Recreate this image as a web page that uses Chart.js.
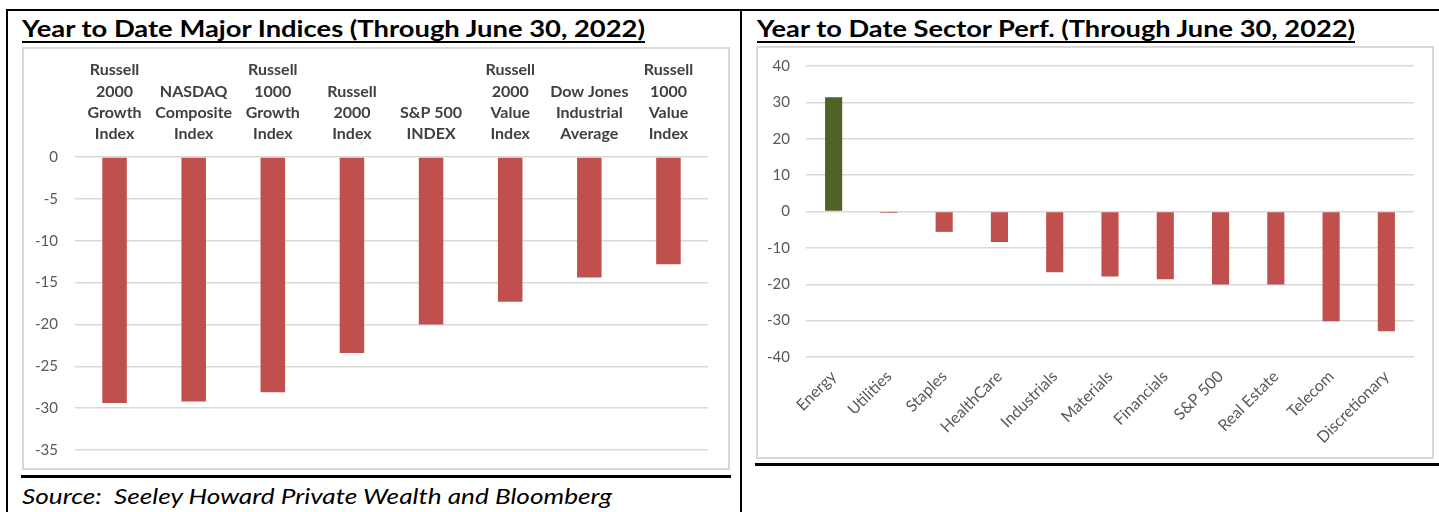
<!DOCTYPE html>
<html>
<head>
<meta charset="utf-8">
<script src="https://cdn.jsdelivr.net/npm/chart.js@4.4.1/dist/chart.umd.min.js"></script>
<style>
  html, body { margin:0; padding:0; background:#fff; width:1439px; height:512px; overflow:hidden; position:relative; font-family: Lato, "Open Sans", sans-serif; }
  .line { position:absolute; background:#000; }
  .box { position:absolute; border:2px solid #d9d9d9; box-sizing:border-box; }
  .fit { position:absolute; white-space:nowrap; transform-origin:0 0; }
  .title { font-weight:700; font-size:23px; color:#000; text-decoration:underline; text-decoration-thickness:2px; text-underline-offset:4px; }
  .source { font-style:italic; font-size:22px; color:#000; }
  canvas { position:absolute; }
</style>
</head>
<body>
<!-- frame lines -->
<div class="line" style="left:6px; top:9px; width:1433px; height:2px;"></div>
<div class="line" style="left:6px; top:9px; width:2px; height:503px;"></div>
<div class="line" style="left:740px; top:9px; width:2px; height:503px;"></div>
<div class="line" style="left:21px; top:475px; width:710px; height:3px;"></div>
<div class="line" style="left:755px; top:463px; width:684px; height:3px;"></div>

<div class="fit title" id="t1" data-w="623" style="left:22px; top:14px;">Year to Date Major Indices (Through June 30, 2022)</div>
<div class="fit title" id="t2" data-w="598" style="left:757px; top:14px;">Year to Date Sector Perf. (Through June 30, 2022)</div>
<div class="fit source" id="src" data-w="590" style="left:22px; top:482px;">Source:&nbsp; Seeley Howard Private Wealth and Bloomberg</div>

<div class="box" style="left:22px; top:47px; width:708px; height:423px;"></div>
<div class="box" style="left:756px; top:46px; width:678px; height:413px;"></div>

<canvas id="c1" width="708" height="423" style="left:22px; top:47px;"></canvas>
<canvas id="c2" width="678" height="413" style="left:756px; top:46px;"></canvas>

<script>
// ---- Data ----
const indexCategories = [
  ["Russell","2000","Growth","Index"],
  ["NASDAQ","Composite","Index"],
  ["Russell","1000","Growth","Index"],
  ["Russell","2000","Index"],
  ["S&P 500","INDEX"],
  ["Russell","2000","Value","Index"],
  ["Dow Jones","Industrial","Average"],
  ["Russell","1000","Value","Index"]
];
const indexValues = [-29.4, -29.2, -28.1, -23.4, -20.0, -17.3, -14.4, -12.8];
const indexTicks = [0, -5, -10, -15, -20, -25, -30, -35];

const sectorCategories = ["Energy","Utilities","Staples","HealthCare","Industrials","Materials","Financials","S&P 500","Real Estate","Telecom","Discretionary"];
const sectorValues = [31.4, -0.4, -5.6, -8.4, -16.7, -17.9, -18.6, -20.1, -20.1, -30.2, -32.9];
const sectorTicks = [40, 30, 20, 10, 0, -10, -20, -30, -40];

const RED = "#C0504D";
const GREEN = "#4F6228";
const GRID = "#d9d9d9";
const TICK = "#595959";

// fit text widths
document.querySelectorAll('.fit').forEach(el => {
  const target = parseFloat(el.dataset.w);
  const w = el.getBoundingClientRect().width;
  el.style.transform = 'scaleX(' + (target / w) + ')';
});

Chart.defaults.font.family = "Lato, 'Open Sans', sans-serif";
Chart.defaults.animation = false;

new Chart(document.getElementById('c1'), {
  type: 'bar',
  data: {
    labels: indexCategories,
    datasets: [{ data: indexValues, backgroundColor: RED, borderWidth: 0, categoryPercentage: 1, barPercentage: 0.31 }]
  },
  options: {
    responsive: false,
    animation: false,
    layout: { padding: { left: 0, right: 22, top: 0, bottom: 20 } },
    plugins: { legend: { display: false }, tooltip: { enabled: false } },
    scales: {
      x: {
        position: 'top',
        grid: { display: false, drawTicks: false },
        border: { display: false },
        ticks: { color: '#404040', font: { size: 16, weight: 'bold', lineHeight: 1.34 }, padding: 12, maxRotation: 0, minRotation: 0, autoSkip: false },
        afterFit: s => { s.height = 110; s.paddingLeft = 0; s.paddingRight = 0; }
      },
      y: {
        min: -35, max: 0,
        afterBuildTicks: s => { s.ticks = indexTicks.map(v => ({ value: v })); },
        grid: { color: GRID, lineWidth: 1.5, drawTicks: false },
        border: { display: false },
        ticks: { color: TICK, font: { size: 15 }, padding: 17 },
        afterFit: s => { s.width = 53; s.paddingTop = 0; s.paddingBottom = 0; }
      }
    }
  }
});

new Chart(document.getElementById('c2'), {
  type: 'bar',
  data: {
    labels: sectorCategories,
    datasets: [{ data: sectorValues, backgroundColor: sectorValues.map(v => v >= 0 ? GREEN : RED), borderWidth: 0, categoryPercentage: 1, barPercentage: 0.31 }]
  },
  options: {
    responsive: false,
    animation: false,
    layout: { padding: { left: 0, right: 20, top: 20, bottom: 0 } },
    plugins: { legend: { display: false }, tooltip: { enabled: false } },
    scales: {
      x: {
        grid: { display: false, drawTicks: false },
        border: { display: false },
        ticks: { color: TICK, font: { size: 16 }, padding: 10, maxRotation: 45, minRotation: 45, autoSkip: false },
        afterFit: s => { s.height = 102; s.paddingLeft = 0; s.paddingRight = 0; }
      },
      y: {
        min: -40, max: 40,
        afterBuildTicks: s => { s.ticks = sectorTicks.map(v => ({ value: v })); },
        grid: { color: GRID, lineWidth: 1.5, drawTicks: false },
        border: { display: false },
        ticks: { color: TICK, font: { size: 15 }, padding: 16 },
        afterFit: s => { s.width = 50; s.paddingTop = 0; s.paddingBottom = 0; }
      }
    }
  }
});
</script>
</body>
</html>
